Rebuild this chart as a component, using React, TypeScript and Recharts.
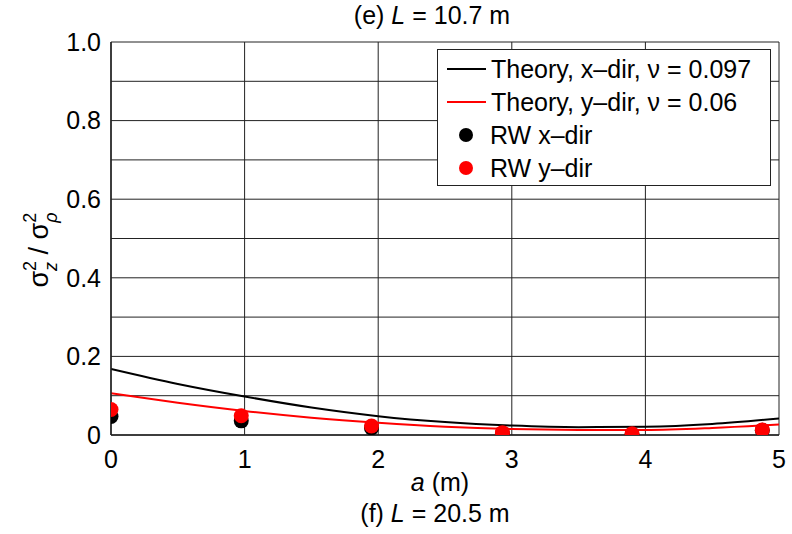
import {
  ComposedChart,
  Line,
  Scatter,
  XAxis,
  YAxis,
  CartesianGrid,
} from "recharts";

// Theory curves at a = 0, 0.5, ..., 5
const CURVE_A = [0, 0.5, 1, 1.5, 2, 2.5, 3, 3.5, 4, 4.5, 5];
const THEORY_X = [0.168, 0.13, 0.098, 0.07, 0.048, 0.033, 0.024, 0.02, 0.021, 0.028, 0.042];
const THEORY_Y = [0.106, 0.082, 0.061, 0.044, 0.031, 0.021, 0.015, 0.013, 0.013, 0.018, 0.027];

// random-walk simulation points
const RW_A = [0, 0.975, 1.95, 2.93, 3.9, 4.875];
const RW_X = [0.047, 0.036, 0.018, 0.004, 0.002, 0.012];
const RW_Y = [0.065, 0.049, 0.023, 0.006, 0.003, 0.013];

const X_TICKS = [0, 1, 2, 3, 4, 5];
const Y_TICKS = [0, 0.1, 0.2, 0.3, 0.4, 0.5, 0.6, 0.7, 0.8, 0.9, 1.0];

const FONT = "'Liberation Sans', Arial, Helvetica, sans-serif";
const INK = "#222";
const FS = 25;

const theoryX = CURVE_A.map((a, i) => ({ a, v: THEORY_X[i] }));
const theoryY = CURVE_A.map((a, i) => ({ a, v: THEORY_Y[i] }));
const rwX = RW_A.map((a, i) => ({ a, v: RW_X[i] }));
const rwY = RW_A.map((a, i) => ({ a, v: RW_Y[i] }));

const LEGEND_ROWS = [
  { label: "Theory, x–dir, ν = 0.097", color: "#000", kind: "line" },
  { label: "Theory, y–dir, ν = 0.06", color: "#f00", kind: "line" },
  { label: "RW x–dir", color: "#000", kind: "dot" },
  { label: "RW y–dir", color: "#f00", kind: "dot" },
];

// drawn over the chart instead of through <Legend>, so no plot space is reserved for it
function LegendBox() {
  return (
    <div
      style={{
        position: "absolute",
        left: 437,
        top: 49,
        width: 332,
        height: 133,
        border: `1px solid ${INK}`,
        background: "#fff",
        paddingTop: 2,
        fontFamily: FONT,
        fontSize: FS,
        color: "#000",
      }}
    >
      {LEGEND_ROWS.map((r) => (
        <div key={r.label} style={{ height: 33, position: "relative" }}>
          {r.kind === "line" ? (
            <div style={{ position: "absolute", left: 9, top: 16, width: 39, height: 2, background: r.color }} />
          ) : (
            <div style={{ position: "absolute", left: 21, top: 10, width: 14, height: 14, borderRadius: 7, background: r.color }} />
          )}
          <span style={{ position: "absolute", left: r.kind === "line" ? 53 : 52, top: 2, lineHeight: "30px", whiteSpace: "nowrap" }}>
            {r.label}
          </span>
        </div>
      ))}
    </div>
  );
}

function XLabel(props: any) {
  const vb = props.viewBox || {};
  const cx = vb.x + vb.width / 2;
  return (
    <g fontFamily={FONT} fontSize={FS} fill="#000" textAnchor="middle">
      <text x={cx - 5} y={491}>
        <tspan fontStyle="italic">a</tspan> (m)
      </text>
      <text x={cx - 10} y={522}>
        (f) <tspan fontStyle="italic">L</tspan> = 20.5 m
      </text>
    </g>
  );
}

function YLabel() {
  const cx = 48;
  const cy = 250;
  return (
    <text
      transform={`translate(${cx},${cy}) rotate(-90)`}
      fontFamily={FONT}
      fontSize={27}
      fill="#000"
      textAnchor="middle"
    >
      σ
      <tspan fontSize={18} dy={-12}>2</tspan>
      <tspan fontSize={18} dx={-10} dy={21} fontStyle="italic">z</tspan>
      <tspan dy={-9}> / σ</tspan>
      <tspan fontSize={18} dy={-12}>2</tspan>
      <tspan fontSize={18} dx={-10} dy={21} fontStyle="italic">ρ</tspan>
    </text>
  );
}

export default function App() {
  return (
    <div style={{ position: "absolute", left: 0, top: 0, width: 792, height: 534, background: "#fff" }}>
      <svg width={792} height={40} style={{ position: "absolute", left: 0, top: 0 }}>
        <text x={432} y={24} fontFamily={FONT} fontSize={FS} textAnchor="middle" fill="#000">
          (e) <tspan fontStyle="italic">L</tspan> = 10.7 m
        </text>
      </svg>
      <ComposedChart
        width={792}
        height={534}
        margin={{ top: 42, right: 13, bottom: 59, left: 0 }}
        style={{ fontFamily: FONT }}
      >
        <CartesianGrid stroke={INK} strokeWidth={1} horizontalValues={Y_TICKS} verticalValues={X_TICKS} />
        <XAxis
          type="number"
          dataKey="a"
          domain={[0, 5]}
          ticks={X_TICKS}
          allowDataOverflow
          stroke={INK}
          strokeWidth={1.5}
          tickLine={false}
          tickMargin={9}
          tick={{ fill: "#000", fontSize: FS }}
          label={<XLabel />}
          height={40}
        />
        <YAxis
          type="number"
          domain={[0, 1]}
          ticks={Y_TICKS}
          allowDataOverflow
          stroke={INK}
          strokeWidth={1.5}
          tickLine={false}
          tickMargin={4}
          width={111}
          tick={{ fill: "#000", fontSize: FS }}
          tickFormatter={(v: number) => {
            const k = Math.round(v * 10);
            if (k % 2 !== 0) return "";
            return k === 0 ? "0" : v.toFixed(1);
          }}
          label={<YLabel />}
        />
        <Line
          data={theoryX}
          dataKey="v"
          type="monotone"
          stroke="#000"
          strokeWidth={2}
          dot={false}
          isAnimationActive={false}
        />
        <Line
          data={theoryY}
          dataKey="v"
          type="monotone"
          stroke="#f00"
          strokeWidth={2}
          dot={false}
          isAnimationActive={false}
        />
        <Scatter
          data={rwX}
          dataKey="v"
          fill="#000"
          isAnimationActive={false}
          shape={(p: any) => <circle cx={p.cx} cy={p.cy} r={7.5} fill="#000" />}
        />
        <Scatter
          data={rwY}
          dataKey="v"
          fill="#f00"
          isAnimationActive={false}
          shape={(p: any) => <circle cx={p.cx} cy={p.cy} r={7.5} fill="#f00" />}
        />
      </ComposedChart>
      <LegendBox />
    </div>
  );
}
